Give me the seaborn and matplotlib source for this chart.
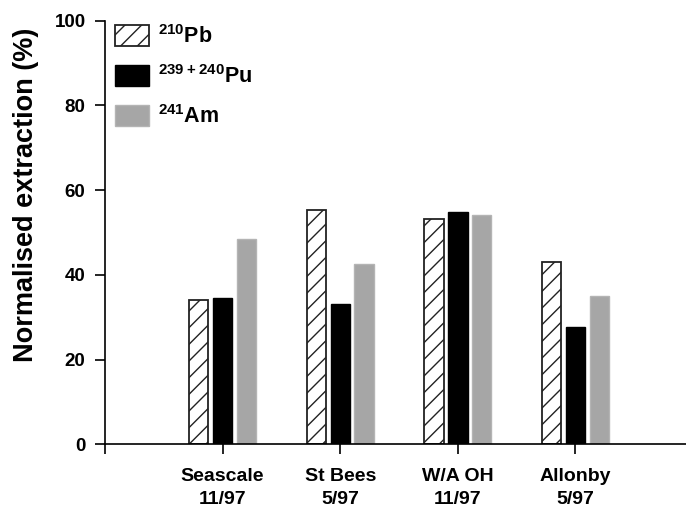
import pandas as pd
import numpy as np
import seaborn as sns
import matplotlib.pyplot as plt
from matplotlib.patches import Patch

# values (normalised extraction, %)
sites = ['Seascale\n11/97', 'St Bees\n5/97', 'W/A OH\n11/97', 'Allonby\n5/97']
pb210 = [34.1, 55.3, 53.1, 43.0]
pu239 = [34.5, 33.1, 54.9, 27.8]
am241 = [48.4, 42.6, 54.1, 35.1]
nuclides = ['$^{210}$Pb', '$^{239+240}$Pu', '$^{241}$Am']

data = pd.DataFrame({
    'site': sites * 3,
    'nuclide': np.repeat(nuclides, len(sites)),
    'value': pb210 + pu239 + am241,
})

sns.set_style('ticks')
plt.rcParams['font.family'] = ['Liberation Sans', 'DejaVu Sans']
plt.rcParams['font.weight'] = 'bold'
plt.rcParams['text.color'] = 'black'
plt.rcParams['axes.labelcolor'] = 'black'
plt.rcParams['xtick.color'] = 'black'
plt.rcParams['ytick.color'] = 'black'
plt.rcParams['axes.edgecolor'] = 'black'
plt.rcParams['mathtext.fontset'] = 'custom'
plt.rcParams['mathtext.bf'] = 'Liberation Sans:bold'
plt.rcParams['mathtext.rm'] = 'Liberation Sans:bold'
plt.rcParams['mathtext.default'] = 'bf'
plt.rcParams['hatch.color'] = '#333333'
plt.rcParams['hatch.linewidth'] = 1.0

fig = plt.figure(figsize=(6.86, 5.07), dpi=100)
ax = fig.add_axes([0.153, 0.1237, 0.847, 0.8355])

# empty first slot leaves the gap at the left of the axis
order = [''] + sites
sns.barplot(data=data, x='site', y='value', hue='nuclide', order=order,
            hue_order=nuclides, width=0.61, gap=0.19, ax=ax, legend=False)

styles = [dict(facecolor='white', edgecolor='#222222', hatch='//', linewidth=1.3),
          dict(facecolor='black', edgecolor='black', linewidth=1.0),
          dict(facecolor='#a6a6a6', edgecolor='#b4b4b4', linewidth=1.0)]
for cont, st in zip(ax.containers, styles):
    for bar in cont:
        bar.set(**st)

ax.set_xlim(0, 4.94)
ax.set_ylim(0, 100)
ax.set_yticks(range(0, 101, 20))
ax.set_xlabel('')
ax.set_ylabel('Normalised extraction (%)', fontsize=19.5, fontweight='bold')
ax.yaxis.set_label_coords(-0.113, 0.59)
sns.despine(ax=ax)
for sp in ax.spines.values():
    sp.set_linewidth(1.2)
ax.tick_params(axis='both', direction='out', length=7, width=1.2)
ax.tick_params(axis='y', labelsize=13.5, pad=7)
ax.tick_params(axis='x', labelsize=14, pad=10)
for lab in ax.get_xticklabels():
    lab.set_linespacing(1.5)
    lab.set_fontweight('bold')
for lab in ax.get_yticklabels():
    lab.set_fontweight('bold')

handles = [Patch(**st) for st in styles]
ax.legend(handles, nuclides, loc='upper left', bbox_to_anchor=(0.017, 0.99),
          frameon=False, fontsize=15.5, handlelength=1.6, handleheight=1.1,
          handletextpad=0.4, labelspacing=0.8, borderaxespad=0, borderpad=0)

fig.savefig('out.png', dpi=100)
